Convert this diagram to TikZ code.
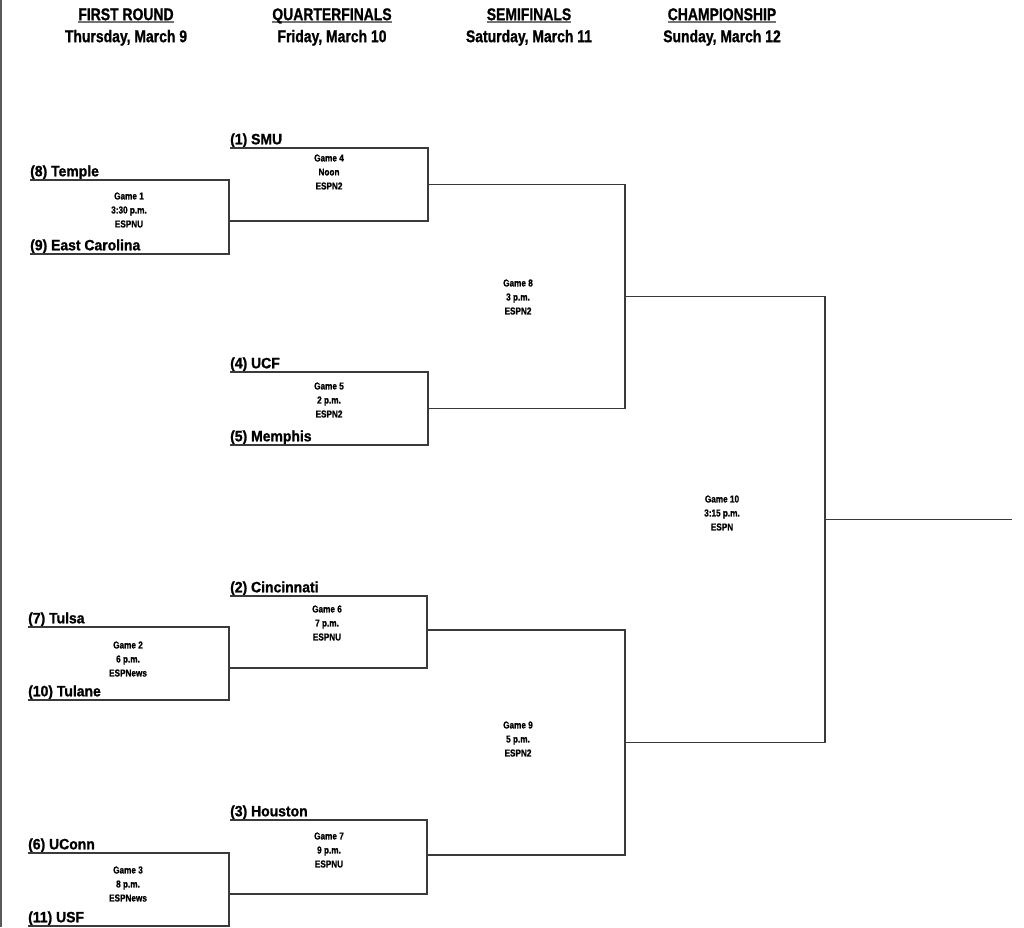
\documentclass[tikz,border=0pt]{standalone}
\usepackage{fontspec}
\setmainfont{Liberation Sans}
\newfontfamily\teamfont{Liberation Sans}[FakeStretch=0.93,FakeBold=1.2]
\newfontfamily\brkfont{Liberation Sans}[FakeStretch=0.82,FakeBold=1]
\usepackage{xcolor}
\usepackage{tikz}
\usetikzlibrary{positioning,calc}
\definecolor{rule}{HTML}{3A3A3A}
\definecolor{edge}{HTML}{5A5A5A}
\newcommand{\rdhead}[1]{\setbox0\hbox{#1}\rlap{\color{black!55}\rule[-2.5pt]{\wd0}{1.3pt}}\box0}

\begin{document}
\begin{tikzpicture}[x=1pt,y=-1pt,
  team/.style={anchor=south west,inner sep=0pt,text depth=3.5pt,font=\teamfont\bfseries\fontsize{15}{15}\selectfont},
  game/.style={align=center,inner sep=0pt,font=\brkfont\bfseries\fontsize{10}{14}\selectfont},
  head/.style={align=center,inner sep=0pt,font=\brkfont\bfseries\fontsize{17}{22}\selectfont},
  bracket/.style={draw=rule,line width=1.4pt}]
\useasboundingbox (0,0) rectangle (1024,927);
\draw[edge,line width=2pt] (1,0) -- (1,927);
% round headings
\node[head] (r1) at (126,27) {\rdhead{FIRST ROUND}\\Thursday, March 9};
\node[head] (r2) at (332,27) {\rdhead{QUARTERFINALS}\\Friday, March 10};
\node[head] (r3) at (529,27) {\rdhead{SEMIFINALS}\\Saturday, March 11};
\node[head] (r4) at (722,27) {\rdhead{CHAMPIONSHIP}\\Sunday, March 12};
% teams
\node[team] (temple) at (30,180) {(8) Temple};
\node[team] (ecu) at (30,254) {(9) East Carolina};
\node[team] (smu) at (230,148) {(1) SMU};
\node[team] (ucf) at (230,372) {(4) UCF};
\node[team] (memphis) at (230,445) {(5) Memphis};
\node[team] (cincy) at (230,596) {(2) Cincinnati};
\node[team] (tulsa) at (28,627) {(7) Tulsa};
\node[team] (tulane) at (28,700) {(10) Tulane};
\node[team] (houston) at (230,820) {(3) Houston};
\node[team] (uconn) at (28,853) {(6) UConn};
\node[team] (usf) at (28,926) {(11) USF};
% winner slots
\coordinate (w1) at (229,221);
\coordinate (w2) at (229,668);
\coordinate (w3) at (229,894);
\coordinate (w4) at (428,184.5);
\coordinate (w5) at (428,408.5);
\coordinate (w6) at (427,630);
\coordinate (w7) at (427,855);
\coordinate (w8) at (625,296.5);
\coordinate (w9) at (625,742.5);
\coordinate (w10) at (825,519.5);
\coordinate (champ) at (1012,519.5);
% brackets
\draw[bracket] (temple.south west) -| (w1 |- ecu.south west) -- (ecu.south west);
\draw[bracket] (tulsa.south west) -| (w2 |- tulane.south west) -- (tulane.south west);
\draw[bracket] (uconn.south west) -| (w3 |- usf.south west) -- (usf.south west);
\draw[bracket] (smu.south west) -| (w4 |- w1) -- (w1);
\draw[bracket] (ucf.south west) -| (w5 |- memphis.south west) -- (memphis.south west);
\draw[bracket] (cincy.south west) -| (w6 |- w2) -- (w2);
\draw[bracket] (houston.south west) -| (w7 |- w3) -- (w3);
\draw[bracket] (w4) -| (w8 |- w5) -- (w5);
\draw[bracket] (w6) -| (w9 |- w7) -- (w7);
\draw[bracket] (w8) -| (w10 |- w9) -- (w9);
\draw[bracket] (w10) -- (champ);
% games
\node[game] (g1) at (129,210) {Game 1\\3:30 p.m.\\ESPNU};
\node[game] (g2) at (128,659) {Game 2\\6 p.m.\\ESPNews};
\node[game] (g3) at (128,884) {Game 3\\8 p.m.\\ESPNews};
\node[game] (g4) at (329,172) {Game 4\\Noon\\ESPN2};
\node[game] (g5) at (329,400) {Game 5\\2 p.m.\\ESPN2};
\node[game] (g6) at (327,623) {Game 6\\7 p.m.\\ESPNU};
\node[game] (g7) at (329,850) {Game 7\\9 p.m.\\ESPNU};
\node[game] (g8) at (518,297) {Game 8\\3 p.m.\\ESPN2};
\node[game] (g9) at (518,739) {Game 9\\5 p.m.\\ESPN2};
\node[game] (g10) at (722,513) {Game 10\\3:15 p.m.\\ESPN};
\end{tikzpicture}
\end{document}
